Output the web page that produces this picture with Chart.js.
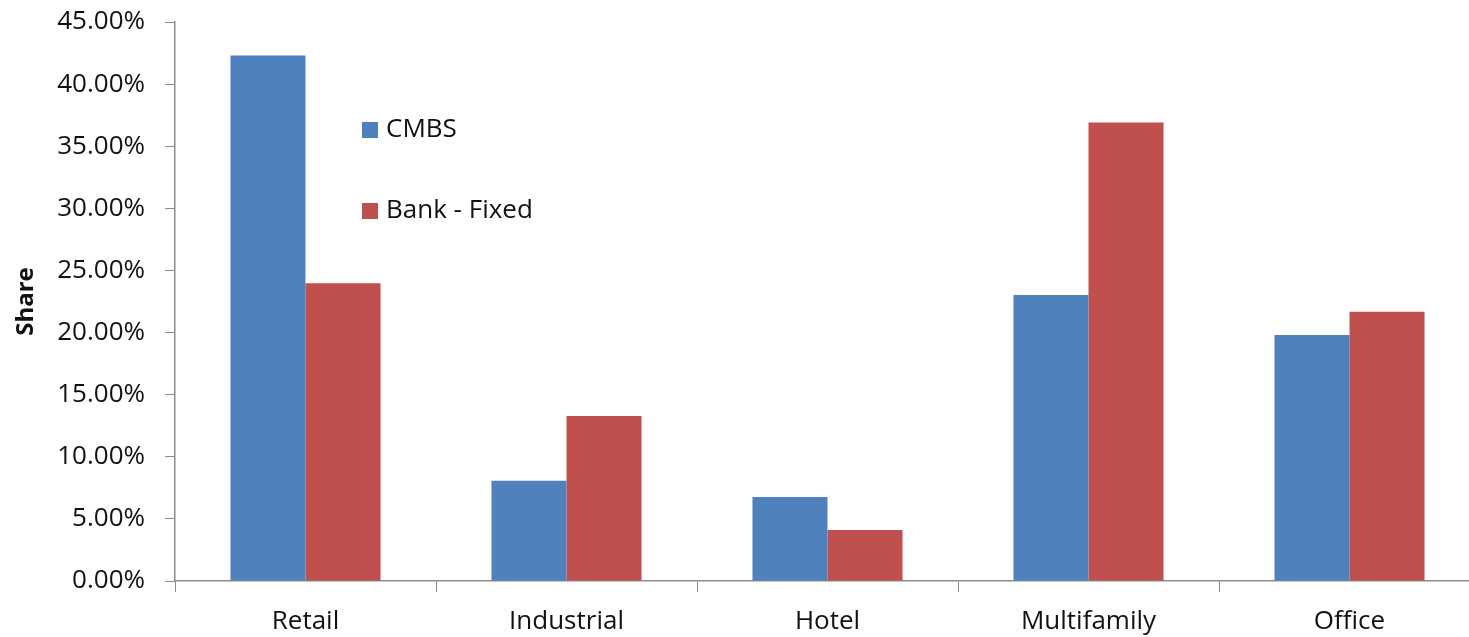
<!DOCTYPE html>
<html>
<head>
<meta charset="utf-8">
<script src="https://cdn.jsdelivr.net/npm/chart.js@4"></script>
<style>
	html, body { margin: 0; padding: 0; background: #fff; overflow: hidden; }
	#wrap { position: relative; width: 1484px; height: 637px; }
	.legend { position: absolute; left: 362px; font-family: "Open Sans", sans-serif; font-size: 26px; line-height: 30px; color: #111; white-space: nowrap; }
	.legend span { display: inline-block; width: 16px; height: 16px; margin-right: 8px; vertical-align: -1px; }
</style>
</head>
<body>
<div id="wrap">
	<canvas id="myChart" width="1484" height="637"></canvas>
	<div class="legend" style="top: 112px;"><span style="background:#4F81BD"></span>CMBS</div>
	<div class="legend" style="top: 193px;"><span style="background:#C0504D"></span>Bank - Fixed</div>
</div>
<script>
const categories = ["Retail", "Industrial", "Hotel", "Multifamily", "Office"];
const cmbsShare = [42.3, 8.07, 6.76, 23.02, 19.8];
const bankFixedShare = [23.96, 13.28, 4.11, 36.9, 21.68];
const yTicks = [0, 5, 10, 15, 20, 25, 30, 35, 40, 45];

const initChart = () => {
	const myChartCanvas = document.getElementById("myChart");

	const chart = new Chart(myChartCanvas, {
		type: "bar",
		data: {
			labels: categories,
			datasets: [
				{
					label: "CMBS",
					data: cmbsShare,
					backgroundColor: "#4F81BD",
					categoryPercentage: 0.575,
					barPercentage: 1,
				},
				{
					label: "Bank - Fixed",
					data: bankFixedShare,
					backgroundColor: "#C0504D",
					categoryPercentage: 0.575,
					barPercentage: 1,
				},
			],
		},
		options: {
			responsive: false,
			animation: false,
			layout: {
				padding: { top: 22, right: 4, left: 0, bottom: 0 },
			},
			scales: {
				x: {
					grid: {
						offset: true,
						drawOnChartArea: false,
						tickLength: 11,
						color: "#8c8c8c",
					},
					border: { color: "#8c8c8c", width: 1.5 },
					ticks: {
						color: "#111",
						padding: 14,
						font: { family: "Open Sans", size: 26 },
					},
					afterFit: (scale) => {
						scale.height = 56;
						scale.paddingLeft = 0;
						scale.paddingRight = 0;
					},
				},
				y: {
					min: 0,
					max: 45,
					afterBuildTicks: (scale) => {
						scale.ticks = yTicks.map((v) => ({ value: v }));
					},
					grid: {
						drawOnChartArea: false,
						tickLength: 10,
						color: "#8c8c8c",
					},
					border: { color: "#8c8c8c", width: 1.5 },
					ticks: {
						color: "#111",
						padding: 20,
						font: { family: "Open Sans", size: 26 },
						callback: (value) => value.toFixed(2) + "%",
					},
					title: {
						display: true,
						text: "Share",
						color: "#111",
						padding: { top: 12, bottom: 0 },
						font: { family: "Open Sans", size: 24, weight: "bold" },
					},
					afterFit: (scale) => {
						scale.width = 175;
						scale.paddingTop = 0;
						scale.paddingBottom = 0;
					},
				},
			},
			plugins: {
				legend: { display: false },
				tooltip: { enabled: false },
			},
		},
	});

	return chart;
};

window.onload = (event) => {
	var chart = initChart();
};
</script>
</body>
</html>
